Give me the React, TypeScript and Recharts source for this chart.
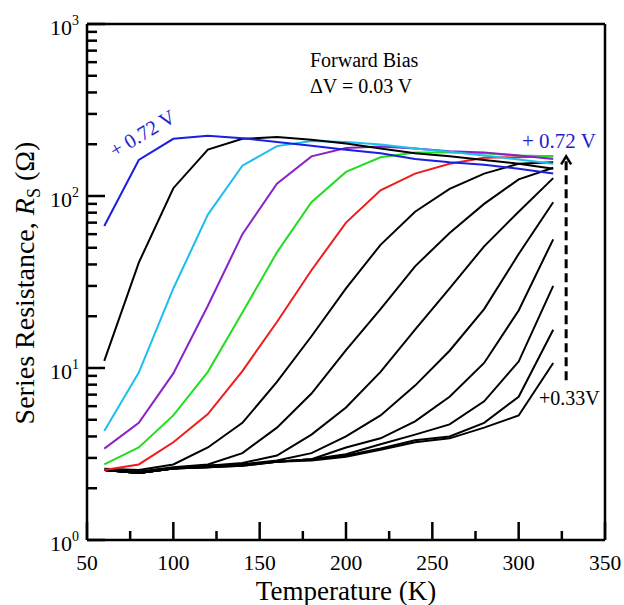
import { LineChart, Line, XAxis, YAxis, ReferenceLine } from 'recharts'

const temps = [60, 80, 100, 120, 140, 160, 180, 200, 220, 240, 260, 280, 300, 320]

// series resistance (ohm) for each forward bias
const rs072 = [67, 162, 215, 224, 217, 206, 196, 186, 177, 164, 157, 152, 144, 135]
const rs069 = [11, 41, 111, 186, 215, 220, 212, 202, 189, 177, 170, 162, 154, 144]
const rs066 = [4.3, 9.4, 29, 78, 150, 195, 209, 206, 199, 189, 181, 172, 163, 154]
const rs063 = [3.4, 4.8, 9.3, 23, 60, 118, 170, 190, 194, 189, 182, 179, 172, 164]
const rs060 = [2.75, 3.45, 5.3, 9.5, 21, 47, 92, 138, 168, 179, 179, 177, 172, 170]
const rs057 = [2.55, 2.75, 3.7, 5.4, 9.6, 18.5, 37, 70, 108, 135, 154, 167, 168, 170]
const rs054 = [2.6, 2.55, 2.75, 3.45, 4.8, 8.3, 15.3, 29, 52, 81, 110, 135, 154, 157]
const rs051 = [2.55, 2.5, 2.65, 2.75, 3.2, 4.5, 7.1, 12.7, 22, 39, 61, 90, 125, 146]
const rs048 = [2.55, 2.45, 2.6, 2.7, 2.8, 3.1, 4.1, 5.9, 9.5, 16.7, 29, 51, 81, 127]
const rs045 = [2.55, 2.45, 2.6, 2.7, 2.75, 2.9, 3.2, 4.0, 5.3, 7.9, 12.6, 22, 46, 92]
const rs042 = [2.55, 2.45, 2.6, 2.7, 2.75, 2.85, 2.95, 3.45, 3.9, 4.9, 6.8, 10.7, 21.6, 56]
const rs039 = [2.55, 2.45, 2.6, 2.65, 2.75, 2.85, 2.95, 3.15, 3.6, 4.1, 4.7, 6.4, 10.9, 30]
const rs036 = [2.55, 2.45, 2.6, 2.65, 2.7, 2.85, 2.95, 3.1, 3.4, 3.8, 4.0, 4.8, 6.8, 16.7]
const rs033 = [2.55, 2.45, 2.6, 2.65, 2.7, 2.85, 2.9, 3.05, 3.35, 3.7, 3.9, 4.5, 5.3, 10.7]

const xTicks = [50, 75, 100, 125, 150, 175, 200, 225, 250, 275, 300, 325, 350]
const yDecades = [1, 10, 100, 1000]
const yMinorSteps = [2, 3, 4, 5, 6, 7, 8, 9]

const yTicks = [
  ...yDecades,
  ...yDecades.slice(0, 3).flatMap((d) => yMinorSteps.map((m) => d * m)),
].sort((a, b) => a - b)

const series = [
  { key: 'v033', values: rs033, color: '#000000' },
  { key: 'v036', values: rs036, color: '#000000' },
  { key: 'v039', values: rs039, color: '#000000' },
  { key: 'v042', values: rs042, color: '#000000' },
  { key: 'v045', values: rs045, color: '#000000' },
  { key: 'v048', values: rs048, color: '#000000' },
  { key: 'v051', values: rs051, color: '#000000' },
  { key: 'v054', values: rs054, color: '#000000' },
  { key: 'v057', values: rs057, color: '#ee1c1c' },
  { key: 'v060', values: rs060, color: '#22dd22' },
  { key: 'v063', values: rs063, color: '#8a22c8' },
  { key: 'v066', values: rs066, color: '#1ebdef' },
  { key: 'v069', values: rs069, color: '#000000' },
  { key: 'v072', values: rs072, color: '#1c1ee0' },
]

const data = temps.map((t, i) => {
  const row: Record<string, number> = { t }
  series.forEach((s) => {
    row[s.key] = s.values[i]
  })
  return row
})

const FONT = '"Liberation Serif", "Times New Roman", serif'

function YTick(props: any) {
  const { x, y, payload } = props
  const exp = Math.log10(payload.value)
  const major = Math.abs(exp - Math.round(exp)) < 1e-6
  return (
    <g>
      <line x1={x} x2={x + (major ? 18 : 10)} y1={y} y2={y} stroke="#000" strokeWidth={2.5} />
      {major && (
        <text x={x - 8} y={y + 11} textAnchor="end" fontFamily={FONT} fontSize={22} fill="#000">
          10
          <tspan dy={-10} fontSize={14}>
            {Math.round(exp)}
          </tspan>
        </text>
      )}
    </g>
  )
}

function XTick(props: any) {
  const { x, y, payload } = props
  const major = payload.value % 50 === 0
  return (
    <g>
      <line x1={x} x2={x} y1={y} y2={y - (major ? 18 : 9)} stroke="#000" strokeWidth={2.5} />
      {major && (
        <text x={x} y={y + 30} textAnchor="middle" fontFamily={FONT} fontSize={21.5} fill="#000">
          {payload.value}
        </text>
      )}
    </g>
  )
}

function BiasArrow(props: any) {
  const { x1, y1, x2, y2 } = props
  const top = Math.min(y1, y2)
  const bottom = Math.max(y1, y2)
  const x = (x1 + x2) / 2
  return (
    <g>
      <line x1={x} x2={x} y1={bottom} y2={top + 3} stroke="#000" strokeWidth={3} strokeDasharray="9 5" />
      <polyline
        points={`${x - 5},${top + 8} ${x},${top} ${x + 5},${top + 8}`}
        fill="none"
        stroke="#000"
        strokeWidth={2.5}
      />
    </g>
  )
}

export default function App() {
  return (
    <div style={{ position: 'absolute', left: 0, top: 0, width: 624, height: 605, background: '#fff' }}>
      <LineChart width={624} height={605} data={data} margin={{ top: 24, right: 19, bottom: 0, left: 0 }}>
        <XAxis
          dataKey="t"
          type="number"
          domain={[50, 350]}
          ticks={xTicks}
          interval={0}
          height={65}
          tickSize={0}
          tickMargin={0}
          tickLine={false}
          axisLine={{ stroke: '#000', strokeWidth: 2.5 }}
          tick={<XTick />}
          allowDataOverflow
        />
        <YAxis
          type="number"
          scale="log"
          domain={[1, 1000]}
          ticks={yTicks}
          interval={0}
          width={87}
          tickSize={0}
          tickMargin={0}
          tickLine={false}
          axisLine={{ stroke: '#000', strokeWidth: 2.5 }}
          tick={<YTick />}
          allowDataOverflow
        />
        <ReferenceLine y={1000} stroke="#000" strokeWidth={2.5} ifOverflow="visible" />
        <ReferenceLine x={350} stroke="#000" strokeWidth={2.5} ifOverflow="visible" />
        {series.map((s) => (
          <Line
            key={s.key}
            dataKey={s.key}
            stroke={s.color}
            strokeWidth={2}
            dot={false}
            type="linear"
            isAnimationActive={false}
          />
        ))}
        <ReferenceLine
          segment={[
            { x: 327.5, y: 8.5 },
            { x: 327.5, y: 170 },
          ]}
          shape={(p: any) => <BiasArrow {...p} />}
        />
      </LineChart>
      <svg
        width={624}
        height={605}
        style={{ position: 'absolute', left: 0, top: 0, pointerEvents: 'none' }}
        fontFamily={FONT}
      >
        <text x={346} y={600} textAnchor="middle" fontSize={27} fill="#000">
          Temperature (K)
        </text>
        <text transform="translate(34, 283) rotate(-90)" textAnchor="middle" fontSize={28} fill="#000">
          Series Resistance, <tspan fontStyle="italic">R</tspan>
          <tspan fontSize={18} dy={6}>
            S
          </tspan>
          <tspan dy={-6}> (Ω)</tspan>
        </text>
        <text x={310} y={67} fontSize={20} fill="#000">
          Forward Bias
        </text>
        <text x={310} y={93} fontSize={20} fill="#000">
          ΔV = 0.03 V
        </text>
        <text transform="translate(115, 158) rotate(-31)" fontSize={20.5} fill="#2222cc">
          + 0.72 V
        </text>
        <text x={522} y={148} fontSize={21} fill="#2222cc">
          + 0.72 V
        </text>
        <text x={539} y={405} fontSize={20} fill="#000">
          +0.33V
        </text>
      </svg>
    </div>
  )
}
